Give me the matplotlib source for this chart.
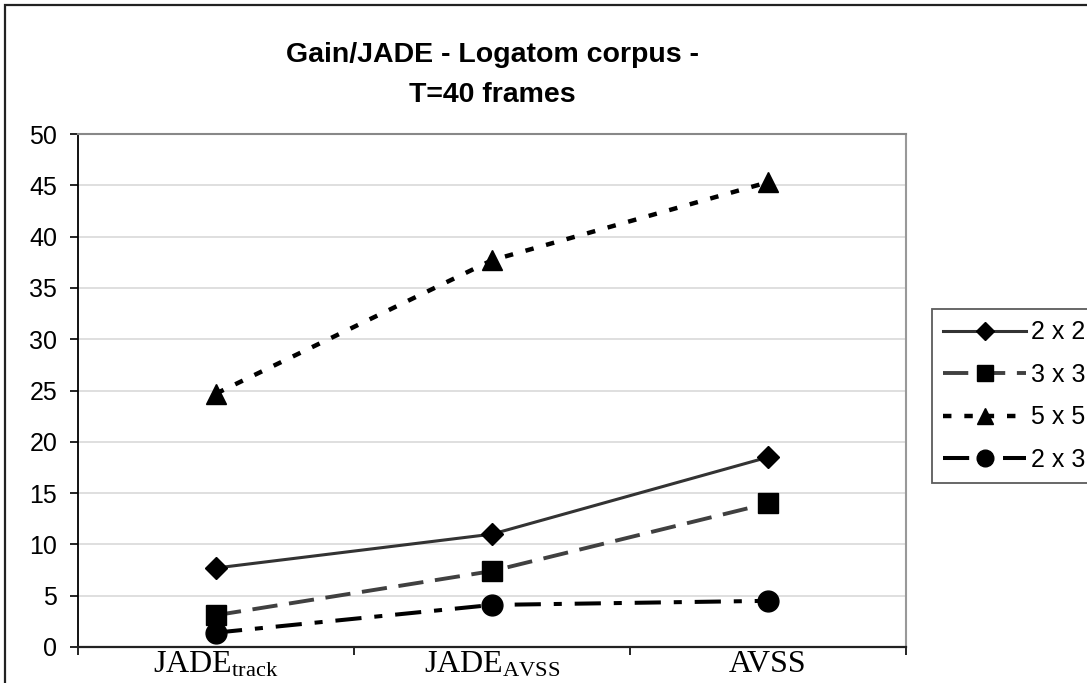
import matplotlib
matplotlib.use("Agg")
import matplotlib.pyplot as plt
from matplotlib.patches import Rectangle

categories = ["JADE$_{\\mathrm{track}}$", "JADE$_{\\mathrm{AVSS}}$", "AVSS"]
series_labels = ["2 x 2", "3 x 3", "5 x 5", "2 x 3"]
s_2x2 = [7.7, 11.0, 18.5]
s_3x3 = [3.1, 7.4, 14.0]
s_5x5 = [24.7, 37.7, 45.3]
s_2x3 = [1.4, 4.1, 4.5]
yticks = [0, 5, 10, 15, 20, 25, 30, 35, 40, 45, 50]
title = "Gain/JADE - Logatom corpus -\nT=40 frames"

plt.rcParams['mathtext.fontset'] = 'custom'
plt.rcParams['mathtext.rm'] = 'Liberation Serif'
plt.rcParams['mathtext.it'] = 'Liberation Serif:italic'
plt.rcParams['mathtext.bf'] = 'Liberation Serif:bold'

W, H = 1087, 683
fig = plt.figure(figsize=(W / 100, H / 100), dpi=100)
fig.patch.set_facecolor("white")

L, R, T, B = 78, 906, 134, 647
ax = fig.add_axes([L / W, 1 - B / H, (R - L) / W, (B - T) / H])

x = list(range(len(categories)))
styles = [
    dict(data=s_2x2, color="#333333", ls="-", marker="D", ms=11.5, lw=2.2),
    dict(data=s_3x3, color="#404040", ls=(0, (6.5, 3.0)), marker="s", ms=15, lw=2.8),
    dict(data=s_5x5, color="#000000", ls=(0, (1.9, 2.9)), marker="^", ms=15, lw=3.2),
    dict(data=s_2x3, color="#000000", ls=(0, (6.5, 3.2, 2.0, 3.2)), marker="o", ms=15, lw=2.9),
]
handles = []
for st, lab in zip(styles, series_labels):
    h, = ax.plot(x, st["data"], color=st["color"], linestyle=st["ls"], lw=st["lw"],
                 marker=st["marker"], markersize=st["ms"], markerfacecolor="black",
                 markeredgecolor="black", label=lab, clip_on=False, zorder=3)
    handles.append(h)

ax.set_xlim(-0.5, 2.5)
ax.set_ylim(0, 50)
ax.set_yticks(yticks)
ax.set_yticklabels([str(v) for v in yticks], fontsize=18, family="Liberation Sans")
ax.yaxis.grid(True, color="#d9d9d9", lw=1.2)
ax.set_axisbelow(True)

ax.set_xticks([-0.5, 0.5, 1.5, 2.5])
ax.set_xticklabels([])
ax.set_xticks(x, minor=True)
ax.set_xticklabels(categories, minor=True, fontsize=23, family="Liberation Serif")
ax.tick_params(axis="x", which="minor", length=0, pad=2)
ax.tick_params(axis="x", which="major", length=6, width=1.2, direction="out", color="black")
ax.tick_params(axis="y", length=6, width=1.2, direction="out", pad=9, color="black")

ax.spines["left"].set_color("black")
ax.spines["left"].set_linewidth(1.3)
ax.spines["bottom"].set_color("#222222")
ax.spines["bottom"].set_linewidth(1.6)
ax.spines["top"].set_color("#888888")
ax.spines["top"].set_linewidth(1.5)
ax.spines["right"].set_color("#999999")
ax.spines["right"].set_linewidth(1.5)

fig.text(0.5 * (L + R) / W, 1 - 75 / H, title, ha="center", va="center", fontsize=20.5,
         fontweight="bold", family="Liberation Sans", linespacing=1.75)

leg = fig.legend(handles=handles, loc="upper left", bbox_to_anchor=(932 / W, 1 - 309 / H),
                 bbox_transform=fig.transFigure, frameon=True, fancybox=False, shadow=False,
                 prop={"family": "Liberation Sans", "size": 18}, handlelength=3.3,
                 handletextpad=0.2, labelspacing=0.74, borderpad=0.45, borderaxespad=0,
                 numpoints=1, markerscale=0.8)
leg.get_frame().set_edgecolor("#333333")
leg.get_frame().set_linewidth(1.3)

fig.patches.append(Rectangle((5 / W, -0.2), 1.2, 1.2 - 5 / H, transform=fig.transFigure,
                             fill=False, edgecolor="#222222", lw=1.6, zorder=10))

fig.savefig("out.png", dpi=100)
